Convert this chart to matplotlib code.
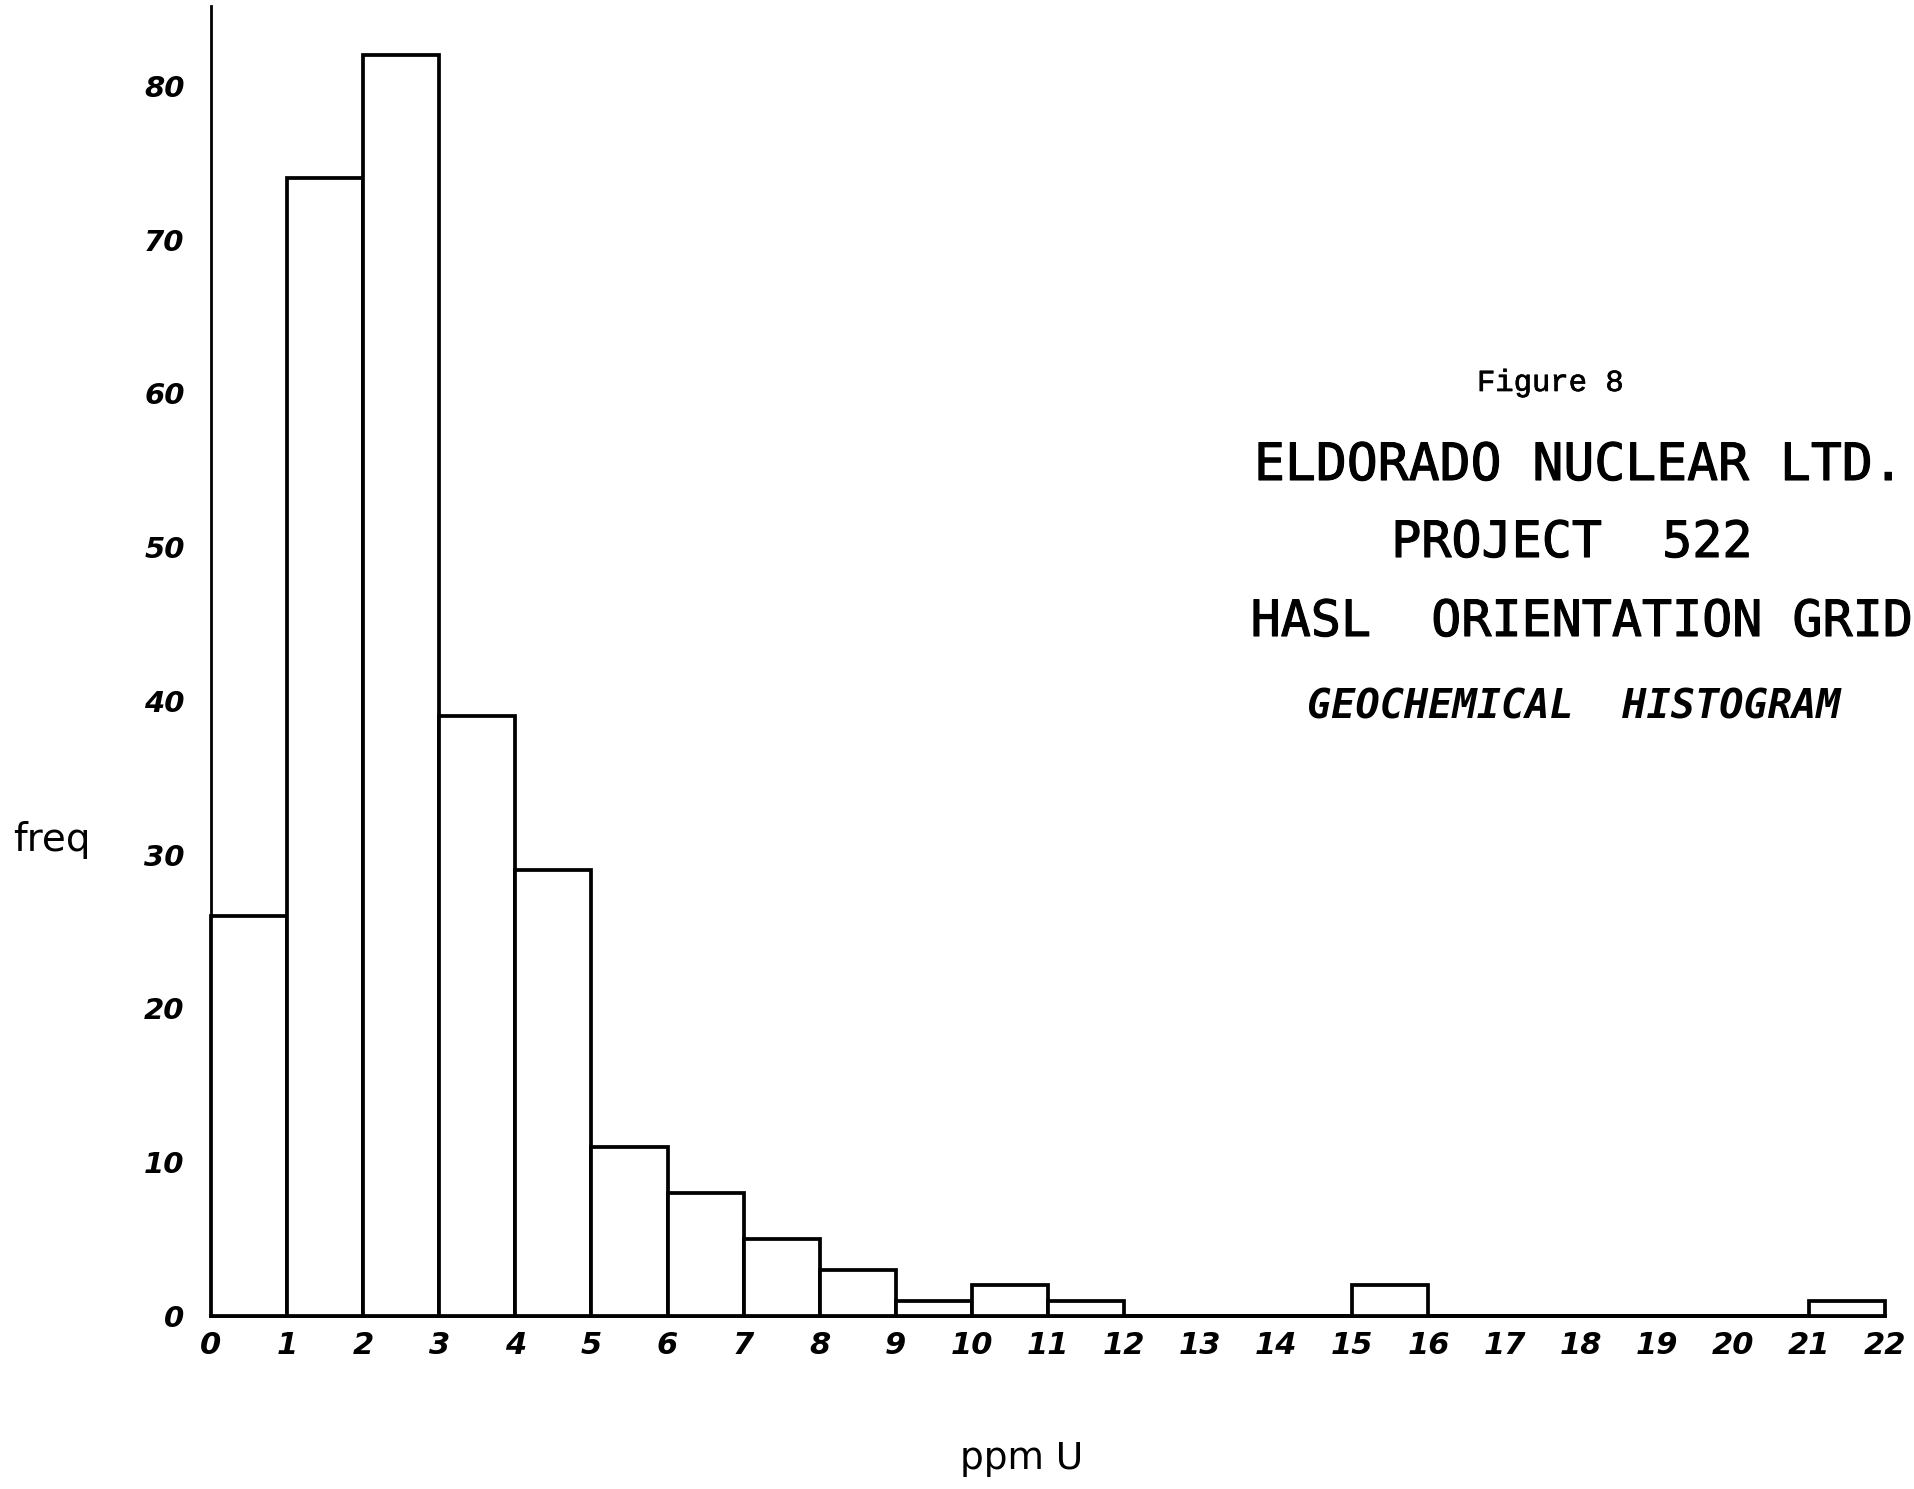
import matplotlib
matplotlib.use("Agg")
import matplotlib.pyplot as plt
import matplotlib.patheffects as pe

# ---- data ----
bin_left = list(range(0, 22))
freq = [26, 74, 82, 39, 29, 11, 8, 5, 3, 1, 2, 1, 0, 0, 0, 2, 0, 0, 0, 0, 0, 1]
x_ticks = list(range(0, 23))
x_tick_labels = [str(v) for v in x_ticks]
y_ticks = [0, 10, 20, 30, 40, 50, 60, 70, 80]
y_tick_labels = [str(v) for v in y_ticks]

W, H = 1914, 1489
fig = plt.figure(figsize=(W / 100, H / 100), dpi=100)
fig.patch.set_facecolor("white")

ax = fig.add_axes([211 / W, 1 - 1316 / H, (1885 - 211) / W, (1316 - 6) / H])
ax.bar(bin_left, freq, width=1.0, align="edge", facecolor="white",
       edgecolor="black", linewidth=2.7, clip_on=False, zorder=3)
ax.set_xlim(0, 22)
ax.set_ylim(0, 85.2)

for s in ["top", "right"]:
    ax.spines[s].set_visible(False)
ax.spines["left"].set_linewidth(2.0)
ax.spines["bottom"].set_linewidth(2.7)

ax.set_xticks(x_ticks)
ax.set_xticklabels(x_tick_labels, fontsize=22, fontstyle="italic",
                   fontweight="bold")
ax.set_yticks(y_ticks)
ax.set_yticklabels(y_tick_labels, fontsize=21, fontstyle="italic",
                   fontweight="bold")
ax.tick_params(axis="x", length=0, pad=11)
ax.tick_params(axis="y", length=0, pad=19)

# axis labels
fig.text(52 / W, 1 - 840 / H, "freq", fontsize=28, ha="center", va="center")
fig.text(1022 / W, 1 - 1459 / H, "ppm U", fontsize=27, ha="center",
         va="center")

# title block
thick = [pe.withStroke(linewidth=0.8, foreground="black")]
fig.text(1550 / W, 1 - 383 / H, "Figure 8", family="Liberation Mono",
         fontsize=22, ha="center", va="center",
         path_effects=[pe.withStroke(linewidth=0.5, foreground="black")])
fig.text(1254 / W, 1 - 466 / H, "ELDORADO NUCLEAR LTD.",
         family="DejaVu Sans Mono", fontsize=37, ha="left", va="center",
         path_effects=thick)
fig.text(1572 / W, 1 - 543 / H, "PROJECT  522",
         family="DejaVu Sans Mono", fontsize=36, ha="center", va="center",
         path_effects=thick)
fig.text(1582 / W, 1 - 622 / H, "HASL  ORIENTATION GRID",
         family="DejaVu Sans Mono", fontsize=36, ha="center", va="center",
         path_effects=thick)
fig.text(1574 / W, 1 - 707 / H, "GEOCHEMICAL  HISTOGRAM",
         family="DejaVu Sans Mono", fontsize=29, fontweight="bold",
         fontstyle="italic", ha="center", va="center")

fig.savefig("out.png", dpi=100, facecolor="white")
